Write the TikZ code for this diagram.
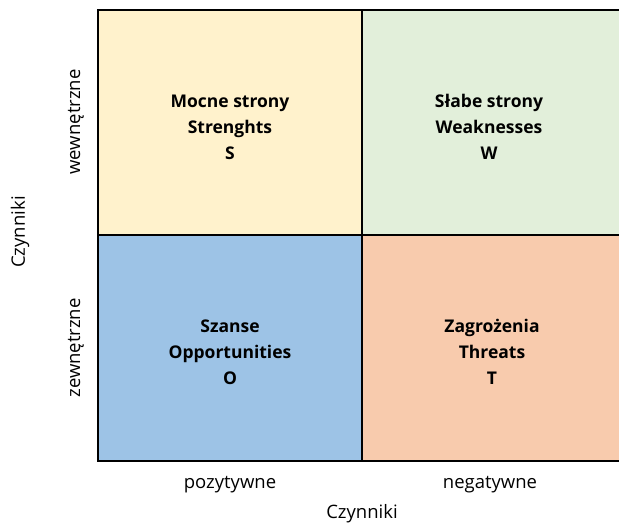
\documentclass[tikz,border=0pt]{standalone}
\usepackage{fontspec}
\setmainfont{Open Sans}
\definecolor{cS}{RGB}{255,242,204}
\definecolor{cW}{RGB}{226,239,218}
\definecolor{cO}{RGB}{157,195,230}
\definecolor{cT}{RGB}{248,203,173}
\begin{document}
\begin{tikzpicture}[x=1pt,y=-1pt,
  qlabel/.style={font=\fontsize{17.5}{26}\selectfont\bfseries,align=center,inner sep=0pt},
  axlabel/.style={font=\fontsize{18.5}{20}\selectfont,inner sep=0pt},
  gridline/.style={line width=2.6pt,black}]
\useasboundingbox (0,0) rectangle (619,525);
\fill[cS] (98,10) rectangle (362,235);
\fill[cW] (362,10) rectangle (625,235);
\fill[cO] (98,235) rectangle (362,461);
\fill[cT] (362,235) rectangle (625,461);
\coordinate (tl) at (98,10);
\coordinate (tr) at (625,10);
\coordinate (bl) at (98,461);
\coordinate (br) at (625,461);
\coordinate (tm) at (362,10);
\coordinate (bm) at (362,461);
\coordinate (ml) at (98,235);
\coordinate (mr) at (625,235);
\draw[gridline] (tr) -- (tl) -- (bl) -- (br);
\draw[gridline] (tm) -- (bm);
\draw[gridline] (ml) -- (mr);
\node[qlabel] (S) at (230,127) {Mocne strony\\Strenghts\\S};
\node[qlabel] (W) at (489,127) {Słabe strony\\Weaknesses\\W};
\node[qlabel] (O) at (230,352) {Szanse\\Opportunities\\O};
\node[qlabel] (T) at (492,352) {Zagrożenia\\Threats\\T};
\node[axlabel,rotate=90] (wew) at (76,122) {wewnętrzne};
\node[axlabel,rotate=90] (zew) at (76,348) {zewnętrzne};
\node[axlabel,rotate=90] (cz1) at (20,232) {Czynniki};
\node[axlabel] (poz) at (230,485) {pozytywne};
\node[axlabel] (neg) at (490,485) {negatywne};
\node[axlabel] (cz2) at (362,514) {Czynniki};
\end{tikzpicture}
\end{document}
